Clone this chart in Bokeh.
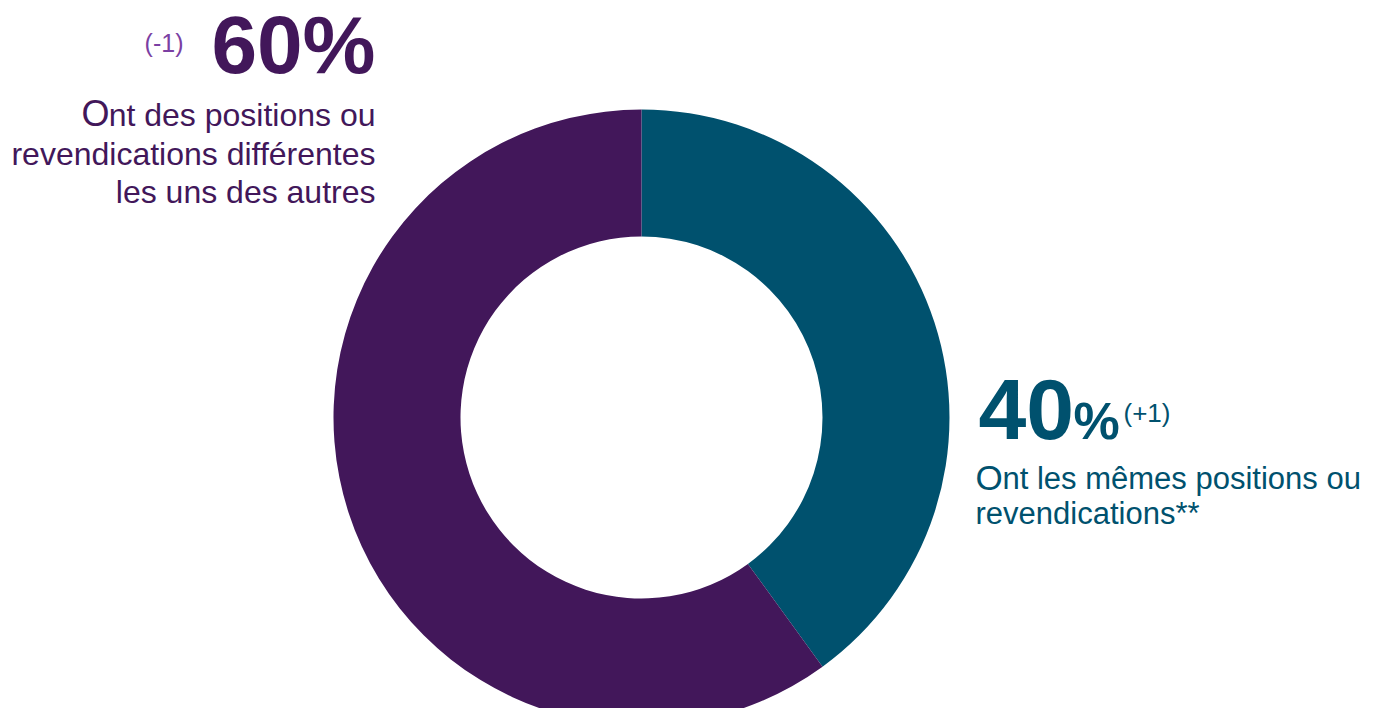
from bokeh.plotting import figure
from bokeh.models import Range1d, ColumnDataSource
from bokeh.core.properties import value
from bokeh.embed import file_html
from bokeh.resources import INLINE
import numpy as np

# ---- data ----
categories = ["Ont les mêmes positions ou revendications**",
              "Ont des positions ou revendications différentes les uns des autres"]
shares = [40, 60]
deltas = ["(+1)", "(-1)"]
colors = ["#00516E", "#42175A"]

W, H = 1362, 708
FONT = "Liberation Sans"

p = figure(width=W, height=H, output_backend="svg", toolbar_location=None,
           x_range=Range1d(0, W), y_range=Range1d(724 - H, 724),
           min_border=0)
p.axis.visible = False
p.grid.visible = False
p.outline_line_color = None
p.background_fill_color = "white"
p.border_fill_color = "white"

# donut (clockwise from 12 o'clock)
vals = np.array(shares, dtype=float)
frac = vals / vals.sum()
cum = np.concatenate([[0], np.cumsum(frac)])
start = np.pi / 2 - 2 * np.pi * cum[:-1]
end = np.pi / 2 - 2 * np.pi * cum[1:]
src = ColumnDataSource(dict(x=[641] * len(vals), y=[724 - 417] * len(vals),
                            start=start, end=end, color=colors))
p.annular_wedge(x="x", y="y", inner_radius=181, outer_radius=308,
                start_angle="start", end_angle="end", direction="clock",
                fill_color="color", line_color=None, source=src)

def txt(x, y, s, size, color, align="left", bold=False):
    yy = y - 0.34 * size - 2
    p.text(x=[x], y=[724 - yy], text=[s], text_font=value(FONT),
           text_font_size=value(f"{size}px"), text_color=color,
           text_align=align, text_baseline="alphabetic",
           text_font_style="bold" if bold else "normal")

# left label (60%)
txt(375, 74, f"{shares[1]}%", 82, colors[1], "right", True)
txt(183, 53, deltas[1], 25, "#7B3FA3", "right")
left_lines = ["Ont des positions ou", "revendications différentes", "les uns des autres"]
txt(375, 127, left_lines[0][1:], 32, colors[1], "right")
txt(109, 127, left_lines[0][0], 36, colors[1], "right")
txt(375, 166, left_lines[1], 32, colors[1], "right")
txt(375, 204, left_lines[2], 32, colors[1], "right")

# right label (40%)
txt(978, 440, f"{shares[0]}", 86, colors[0], "left", True)
txt(1073, 440, "%", 52, colors[0], "left", True)
txt(1123, 423, deltas[0], 26, colors[0], "left")
right_lines = ["Ont les mêmes positions ou", "revendications**"]
txt(975, 491, right_lines[0][0], 35, colors[0], "left")
txt(1002, 491, right_lines[0][1:], 31, colors[0], "left")
txt(975, 526, right_lines[1], 31, colors[0], "left")

open("out.html", "w").write(file_html(p, INLINE))
